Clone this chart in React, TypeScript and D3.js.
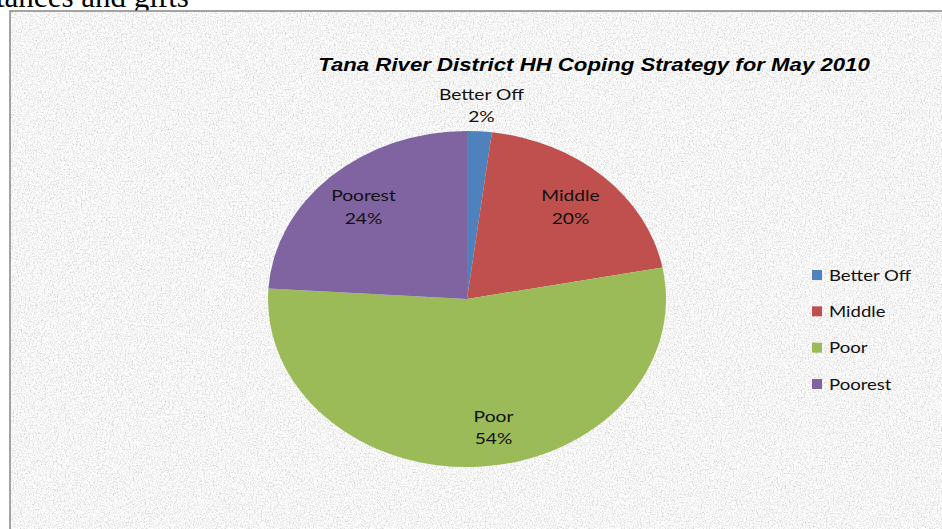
import React, { useEffect, useRef } from 'react';
import * as d3 from 'd3';

const W = 942, H = 529;
const CATEGORIES = ['Better Off', 'Middle', 'Poor', 'Poorest'];
const VALUES = [2, 20, 54, 24];
const COLORS = ['#4F81BD', '#C0504D', '#9BBB59', '#8064A2'];
const TITLE = 'Tana River District HH Coping Strategy for May 2010';

const CX = 467, CY = 299;
const RX = 199, RY = 168;
const LABEL_FONT = "Lato, 'Open Sans', sans-serif";
const TEXT_SX = 1.2; // the whole chart is stretched sideways

export default function App() {
  const ref = useRef<SVGSVGElement | null>(null);

  useEffect(() => {
    const svg = d3.select(ref.current);
    svg.selectAll('*').remove();

    const defs = svg.append('defs');
    const filt = defs.append('filter').attr('id', 'granite')
      .attr('x', 0).attr('y', 0).attr('width', '100%').attr('height', '100%');
    filt.append('feTurbulence').attr('type', 'fractalNoise')
      .attr('baseFrequency', 0.75).attr('numOctaves', 2).attr('seed', 3);
    filt.append('feColorMatrix').attr('type', 'matrix')
      .attr('values', '0.9 0 0 0 0.47  0.9 0 0 0 0.47  0.9 0 0 0 0.47  0 0 0 0 1');

    // document text peeking above the chart
    svg.append('text')
      .attr('x', -4).attr('y', 7)
      .attr('font-family', "'Liberation Serif', 'Times New Roman', serif")
      .attr('font-size', 31).attr('fill', '#000')
      .text('tances and gifts');

    // chart area
    svg.append('rect')
      .attr('x', 10).attr('y', 11).attr('width', W).attr('height', H)
      .attr('filter', 'url(#granite)');
    svg.append('rect')
      .attr('x', 10).attr('y', 11).attr('width', W).attr('height', H)
      .attr('fill', 'none').attr('stroke', '#868686').attr('stroke-width', 1.5);

    // stretched text helper
    const stext = (x: number, y: number) =>
      svg.append('g').attr('transform', `translate(${x},${y}) scale(${TEXT_SX},1)`).append('text');

    stext(594, 71)
      .attr('text-anchor', 'middle')
      .attr('font-family', "'Liberation Sans', Arial, sans-serif")
      .attr('font-weight', 'bold').attr('font-style', 'italic')
      .attr('font-size', 18.5).attr('fill', '#000')
      .text(TITLE);

    const data = CATEGORIES.map((c, i) => ({ name: c, value: VALUES[i], color: COLORS[i] }));
    const pie = d3.pie<any>().value(d => d.value).sort(null);
    const arcs = pie(data);
    const arc = d3.arc<any>().innerRadius(0).outerRadius(RY);
    const sx = RX / RY;

    const g = svg.append('g').attr('transform', `translate(${CX},${CY}) scale(${sx},1)`);
    g.selectAll('path').data(arcs).enter().append('path')
      .attr('d', arc as any)
      .attr('fill', d => d.data.color)
      .attr('stroke', 'none');

    const inside = d3.arc<any>().innerRadius(RY * 0.76).outerRadius(RY * 0.76);
    const outside = d3.arc<any>().innerRadius(RY * 1.16).outerRadius(RY * 1.16);
    const total = d3.sum(VALUES);
    const nudge: Record<string, number> = { Poor: 17 };

    arcs.forEach(d => {
      const small = d.data.value / total < 0.05;
      const [lx, ly] = (small ? outside : inside).centroid(d);
      const t = stext(CX + lx * sx + (nudge[d.data.name] || 0), CY + ly)
        .attr('text-anchor', 'middle')
        .attr('font-family', LABEL_FONT).attr('font-size', 16).attr('fill', '#111');
      t.append('tspan').attr('x', 0).attr('dy', '-0.3em').text(d.data.name);
      t.append('tspan').attr('x', 0).attr('dy', '1.4em')
        .text(`${Math.round(d.data.value / total * 100)}%`);
    });

    const leg = svg.append('g').attr('transform', 'translate(812,270)');
    const ly = d3.scalePoint<string>().domain(CATEGORIES).range([0, 109]);
    CATEGORIES.forEach((c, i) => {
      leg.append('rect').attr('x', 0).attr('y', ly(c)!).attr('width', 10).attr('height', 10)
        .attr('fill', COLORS[i]);
      leg.append('g').attr('transform', `translate(17,${ly(c)! + 10.5}) scale(1.16,1)`)
        .append('text')
        .attr('font-family', LABEL_FONT).attr('font-size', 16).attr('fill', '#111')
        .text(c);
    });
  }, []);

  return (
    <svg ref={ref} width={W} height={H}
      style={{ position: 'absolute', left: 0, top: 0, background: '#fff' }} />
  );
}
